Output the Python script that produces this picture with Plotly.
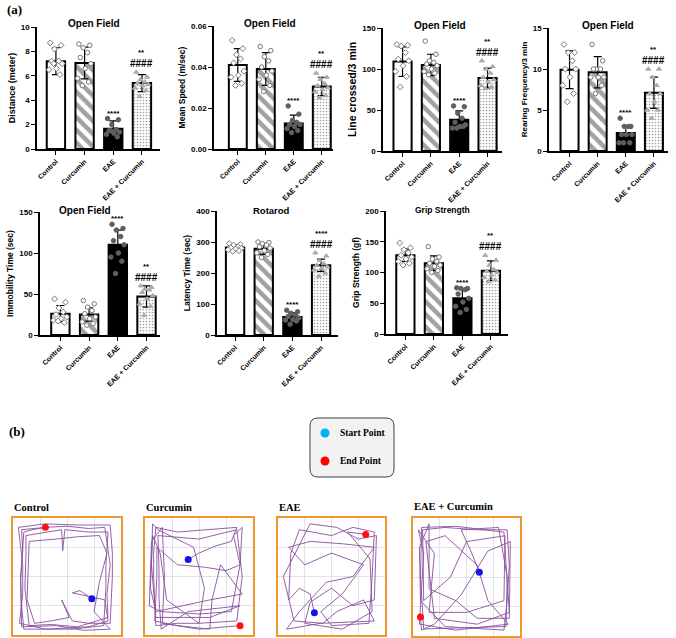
import plotly.graph_objects as go

W, H = 676, 638

categories = ["Control", "Curcumin", "EAE", "EAE + Curcumin"]

# ---------- bar data ----------
distance_mean = [7.2, 7.05, 1.65, 5.4]
distance_sd = [1.1, 1.3, 0.65, 0.7]
distance_pts = [
    [8.7, 8.5, 8.2, 7.2, 7.2, 7.0, 6.6, 6.5, 6.1, 7.0],
    [8.6, 8.5, 8.3, 7.9, 7.5, 7.0, 6.6, 5.8, 5.5, 5.2],
    [2.5, 2.4, 2.0, 1.6, 1.5, 1.4, 1.3, 1.2, 1.0, 1.5],
    [6.3, 5.9, 5.7, 5.5, 5.4, 5.3, 5.2, 5.0, 4.8, 4.3],
]
speed_mean = [0.041, 0.039, 0.0125, 0.0305]
speed_sd = [0.008, 0.008, 0.004, 0.0045]
speed_pts = [
    [0.053, 0.049, 0.046, 0.044, 0.042, 0.038, 0.036, 0.035, 0.032, 0.031],
    [0.050, 0.048, 0.045, 0.043, 0.040, 0.038, 0.036, 0.034, 0.031, 0.028],
    [0.021, 0.017, 0.014, 0.013, 0.012, 0.012, 0.011, 0.010, 0.009, 0.008],
    [0.037, 0.035, 0.034, 0.032, 0.031, 0.030, 0.029, 0.028, 0.026, 0.025],
]
lines_mean = [109, 105, 38, 89]
lines_sd = [18, 13, 11, 12]
lines_pts = [
    [130, 129, 128, 120, 112, 110, 104, 97, 91, 78],
    [134, 118, 110, 108, 106, 104, 100, 97, 95, 93],
    [55, 54, 46, 40, 35, 32, 30, 28, 30, 28],
    [110, 103, 100, 95, 90, 87, 84, 80, 78, 76],
]
rearing_mean = [9.9, 9.6, 2.2, 7.1]
rearing_sd = [2.3, 1.9, 0.9, 1.9]
rearing_pts = [
    [13, 12, 12, 11, 10, 10, 9, 8, 7, 6],
    [13, 11, 10, 10, 10, 9, 9, 9, 8, 7],
    [4, 3, 3, 3, 2, 2, 2, 1, 1, 1],
    [10, 10, 9, 8, 7, 7, 6, 5, 5, 4],
]
immob_mean = [26, 25, 110, 47]
immob_sd = [10, 8, 18, 13]
immob_pts = [
    [44, 40, 33, 28, 25, 22, 20, 18, 15, 17],
    [42, 38, 34, 30, 26, 22, 20, 16, 14, 12],
    [135, 130, 128, 120, 115, 110, 100, 95, 90, 75],
    [60, 58, 56, 55, 52, 48, 44, 38, 35, 24],
]
latency_mean = [282, 278, 58, 225]
latency_sd = [10, 18, 14, 20]
latency_pts = [
    [295, 292, 290, 285, 282, 280, 278, 275, 272, 270],
    [300, 298, 295, 290, 285, 280, 272, 265, 260, 250],
    [80, 75, 70, 65, 60, 55, 50, 48, 45, 35],
    [265, 255, 240, 230, 225, 220, 215, 210, 200, 190],
]
grip_mean = [128, 115, 58, 103]
grip_sd = [10, 12, 16, 16]
grip_pts = [
    [148, 140, 137, 132, 128, 125, 122, 118, 115, 112],
    [142, 125, 122, 118, 115, 112, 110, 106, 103, 100],
    [75, 74, 74, 72, 65, 58, 52, 45, 40, 35],
    [128, 120, 112, 105, 102, 100, 96, 92, 88, 85],
]

sig_open_field = ["", "", "****", "**"]
sig_rotarod = ["", "", "****", "****"]
sig_vs_eae = ["", "", "", "####"]

# ---------- track data (hand-traced waypoints, arena units 0..1, first = start, last = end) ----------
ctrl_track = [
    (0.73, 0.31), (0.62, 0.38), (0.55, 0.36), (0.7, 0.33), (0.85, 0.30), (0.88, 0.12), (0.7, 0.07),
    (0.5, 0.06), (0.3, 0.05), (0.1, 0.05), (0.08, 0.25), (0.07, 0.5), (0.09, 0.72), (0.08, 0.9),
    (0.3, 0.92), (0.5, 0.93), (0.7, 0.91), (0.85, 0.92), (0.88, 0.75), (0.9, 0.6), (0.87, 0.35),
    (0.88, 0.15), (0.6, 0.07), (0.35, 0.09), (0.15, 0.08), (0.11, 0.4), (0.12, 0.7), (0.12, 0.85),
    (0.45, 0.9), (0.46, 0.72), (0.48, 0.9), (0.7, 0.88), (0.88, 0.88), (0.86, 0.6), (0.86, 0.4),
    (0.84, 0.08), (0.55, 0.05), (0.3, 0.05), (0.06, 0.1), (0.09, 0.35), (0.09, 0.6), (0.05, 0.92),
    (0.3, 0.95), (0.6, 0.94), (0.9, 0.94), (0.92, 0.7), (0.92, 0.5), (0.9, 0.1), (0.7, 0.1),
    (0.55, 0.12), (0.45, 0.3), (0.52, 0.15), (0.35, 0.12), (0.2, 0.1), (0.13, 0.3), (0.14, 0.55),
    (0.15, 0.8), (0.4, 0.82), (0.6, 0.84), (0.8, 0.85), (0.87, 0.7), (0.8, 0.45), (0.75, 0.2),
    (0.9, 0.05), (0.65, 0.04), (0.4, 0.08), (0.08, 0.07), (0.07, 0.45), (0.1, 0.88), (0.18, 0.9),
    (0.30, 0.92),
]
curc_track = [
    (0.40, 0.645), (0.5, 0.7), (0.65, 0.76), (0.8, 0.8), (0.85, 0.92), (0.6, 0.9), (0.3, 0.88),
    (0.1, 0.92), (0.08, 0.7), (0.08, 0.5), (0.1, 0.08), (0.3, 0.1), (0.5, 0.1), (0.85, 0.12),
    (0.9, 0.5), (0.85, 0.9), (0.5, 0.82), (0.12, 0.85), (0.13, 0.55), (0.13, 0.3), (0.15, 0.05),
    (0.4, 0.2), (0.88, 0.25), (0.6, 0.15), (0.1, 0.15), (0.06, 0.6), (0.07, 0.95), (0.12, 0.9),
    (0.45, 0.75), (0.55, 0.4), (0.5, 0.1), (0.2, 0.3), (0.14, 0.7), (0.07, 0.85), (0.05, 0.4),
    (0.1, 0.2), (0.35, 0.25), (0.6, 0.3), (0.9, 0.35), (0.7, 0.6), (0.62, 0.3), (0.6, 0.05),
    (0.3, 0.08), (0.09, 0.12), (0.11, 0.5), (0.11, 0.75), (0.3, 0.6), (0.55, 0.58), (0.75, 0.55),
    (0.88, 0.6), (0.82, 0.85), (0.9, 0.92), (0.88, 0.6), (0.8, 0.2), (0.5, 0.18), (0.15, 0.2),
    (0.04, 0.25), (0.06, 0.8), (0.16, 0.92), (0.18, 0.5), (0.16, 0.1), (0.5, 0.05), (0.88, 0.08),
]
eae_track = [
    (0.34, 0.19), (0.3, 0.35), (0.2, 0.4), (0.1, 0.3), (0.12, 0.7), (0.2, 0.9), (0.5, 0.85),
    (0.7, 0.92), (0.9, 0.88), (0.88, 0.5), (0.85, 0.1), (0.5, 0.08), (0.4, 0.2), (0.6, 0.35),
    (0.8, 0.6), (0.5, 0.7), (0.25, 0.6), (0.1, 0.75), (0.3, 0.8), (0.6, 0.78), (0.9, 0.75),
    (0.7, 0.5), (0.45, 0.45), (0.2, 0.2), (0.08, 0.05), (0.4, 0.1), (0.9, 0.12), (0.8, 0.3),
    (0.55, 0.2), (0.42, 0.1), (0.15, 0.12), (0.05, 0.5), (0.3, 0.95), (0.55, 0.92), (0.75, 0.82),
    (0.92, 0.85), (0.9, 0.3), (0.7, 0.25), (0.5, 0.4), (0.3, 0.28), (0.25, 0.1), (0.6, 0.05),
    (0.88, 0.2), (0.86, 0.65), (0.65, 0.88), (0.82, 0.86),
]
eaec_track = [
    (0.62, 0.54), (0.55, 0.7), (0.45, 0.9), (0.8, 0.92), (0.88, 0.5), (0.87, 0.08), (0.5, 0.07),
    (0.1, 0.06), (0.07, 0.5), (0.08, 0.92), (0.4, 0.93), (0.85, 0.88), (0.9, 0.2), (0.6, 0.1),
    (0.2, 0.15), (0.12, 0.8), (0.3, 0.85), (0.6, 0.6), (0.7, 0.3), (0.89, 0.1), (0.4, 0.05),
    (0.06, 0.1), (0.1, 0.7), (0.05, 0.9), (0.2, 0.7), (0.15, 0.2), (0.5, 0.2), (0.85, 0.3),
    (0.86, 0.85), (0.5, 0.8), (0.35, 0.5), (0.1, 0.3), (0.09, 0.9), (0.3, 0.92), (0.6, 0.9),
    (0.88, 0.9), (0.9, 0.6), (0.88, 0.3), (0.85, 0.05), (0.3, 0.08), (0.07, 0.3), (0.06, 0.75),
    (0.15, 0.95), (0.15, 0.4), (0.4, 0.3), (0.6, 0.15), (0.9, 0.15), (0.91, 0.8), (0.7, 0.72),
    (0.45, 0.35), (0.2, 0.1), (0.08, 0.05), (0.07, 0.16),
]

track_names = ["Control", "Curcumin", "EAE", "EAE + Curcumin"]

# ---------- layout helpers ----------
def px(x):
    return x / W

def py(y):
    return 1 - y / H

panels = [
    dict(mean=distance_mean, sd=distance_sd, pts=distance_pts, sig=sig_open_field, title="Open Field",
         ytitle="Distance (meter)", yr=[0, 10], dt=2, fmt="", box=(37, 160, 27, 149), xr=[-0.66, 3.63],
         tpos=(94, 24), tsize=10, ysize=9),
    dict(mean=speed_mean, sd=speed_sd, pts=speed_pts, sig=sig_open_field, title="Open Field",
         ytitle="Mean Speed (m/sec)", yr=[0, 0.06], dt=0.02, fmt=".2f", box=(214, 333, 26, 149), xr=[-0.85, 3.4],
         tpos=(270, 24), tsize=10, ysize=8.5),
    dict(mean=lines_mean, sd=lines_sd, pts=lines_pts, sig=sig_open_field, title="Open Field",
         ytitle="Line crossed/3 min", yr=[0, 150], dt=50, fmt="", box=(383, 502, 28, 151), xr=[-0.69, 3.51],
         tpos=(440, 25), tsize=10, ysize=10.5),
    dict(mean=rearing_mean, sd=rearing_sd, pts=rearing_pts, sig=sig_open_field, title="Open Field",
         ytitle="Rearing Frequency/3 min", yr=[0, 15], dt=5, fmt="", box=(549, 668, 28, 151), xr=[-0.73, 3.5],
         tpos=(608, 25), tsize=10, ysize=8),
    dict(mean=immob_mean, sd=immob_sd, pts=immob_pts, sig=sig_open_field, title="Open Field",
         ytitle="Immobility Time (sec)", yr=[0, 150], dt=50, fmt="", box=(40, 160, 212, 335), xr=[-0.71, 3.47],
         tpos=(85, 210), tsize=10, ysize=8.5),
    dict(mean=latency_mean, sd=latency_sd, pts=latency_pts, sig=sig_rotarod, title="Rotarod",
         ytitle="Latency Time (sec)", yr=[0, 400], dt=100, fmt="", box=(217, 338, 211, 335), xr=[-0.63, 3.59],
         tpos=(271, 210), tsize=9.5, ysize=8.5),
    dict(mean=grip_mean, sd=grip_sd, pts=grip_pts, sig=sig_open_field, title="Grip Strength",
         ytitle="Grip Strength (gf)", yr=[0, 200], dt=50, fmt="", box=(386, 508, 211, 334), xr=[-0.68, 3.6],
         tpos=(442, 210), tsize=8.5, ysize=8.5),
]

SANS = "Liberation Sans"
SERIF = "Liberation Serif"

offsets = [-0.2, 0.18, -0.05, 0.1, -0.15, 0.22, 0.02, -0.24, 0.14, -0.08]
pt_symbols = ["diamond", "circle", "circle", "triangle-up"]
pt_fill = ["white", "white", "#5f5f5f", "#ababab"]
pt_line = ["#777777", "#777777", "#5f5f5f", "#ababab"]

fig = go.Figure()
layout = dict(
    width=W, height=H, margin=dict(l=0, r=0, t=0, b=0),
    paper_bgcolor="white", plot_bgcolor="rgba(0,0,0,0)", showlegend=False,
    annotations=[], shapes=[],
)

xpos = [0, 1, 2, 3]
for i, p in enumerate(panels):
    k = i + 1
    xa, ya = ("x%d" % k if k > 1 else "x"), ("y%d" % k if k > 1 else "y")
    x0, x1, y0, y1 = p["box"]
    fig.add_trace(go.Bar(
        x=xpos, y=p["mean"], width=0.64, xaxis=xa, yaxis=ya,
        marker=dict(
            color=["white", "white", "black", "white"],
            line=dict(color="black", width=2),
            pattern=dict(shape=["", "\\", "", "."],
                         fgcolor=["white", "black", "black", "#8a8a8a"],
                         bgcolor=["white", "white", "black", "white"],
                         size=[6, 9, 6, 3], solidity=[0.2, 0.5, 0.2, 0.25]),
        ),
    ))
    fig.add_trace(go.Scatter(
        x=xpos, y=p["mean"], mode="markers", marker=dict(opacity=0, size=1),
        error_y=dict(type="data", array=p["sd"], color="black", thickness=1.2, width=4),
        xaxis=xa, yaxis=ya,
    ))
    for g in range(4):
        vals = p["pts"][g]
        fig.add_trace(go.Scatter(
            x=[g + offsets[j % len(offsets)] for j in range(len(vals))], y=vals, mode="markers",
            marker=dict(symbol=pt_symbols[g], size=4.5, color=pt_fill[g],
                        line=dict(color=pt_line[g], width=1)),
            xaxis=xa, yaxis=ya, cliponaxis=False,
        ))
    for g in range(4):
        top = max(p["mean"][g] + p["sd"][g], max(p["pts"][g]))
        if sig_vs_eae[g]:
            layout["annotations"].append(dict(
                x=g, y=top, xref=xa, yref=ya, text="<b>%s</b>" % sig_vs_eae[g], showarrow=False,
                yanchor="bottom", yshift=1, font=dict(family=SANS, size=10, color="black")))
            layout["annotations"].append(dict(
                x=g, y=top, xref=xa, yref=ya, text="<b>%s</b>" % p["sig"][g], showarrow=False,
                yanchor="bottom", yshift=13, font=dict(family=SANS, size=8, color="black")))
        elif p["sig"][g]:
            layout["annotations"].append(dict(
                x=g, y=top, xref=xa, yref=ya, text="<b>%s</b>" % p["sig"][g], showarrow=False,
                yanchor="bottom", yshift=-1, font=dict(family=SANS, size=8, color="black")))
    layout["annotations"].append(dict(
        x=px(p["tpos"][0]), y=py(p["tpos"][1]), xref="paper", yref="paper",
        text="<b>%s</b>" % p["title"], showarrow=False, xanchor="center", yanchor="middle",
        font=dict(family=SANS, size=p["tsize"], color="black")))
    ticks = []
    v = p["yr"][0]
    while v <= p["yr"][1] + 1e-9:
        ticks.append(round(v, 6))
        v += p["dt"]
    layout["xaxis%s" % (k if k > 1 else "")] = dict(
        domain=[px(x0), px(x1)], range=p["xr"], anchor=ya,
        tickvals=xpos, ticktext=categories, tickangle=-45,
        tickfont=dict(family=SANS, size=7, color="black", weight="bold"),
        showline=True, linecolor="black", linewidth=1.5, ticks="outside", ticklen=4,
        tickcolor="black", tickwidth=1.2, showgrid=False, zeroline=False, fixedrange=True,
        automargin=False,
    )
    layout["yaxis%s" % (k if k > 1 else "")] = dict(
        domain=[py(y1), py(y0)], range=p["yr"], anchor=xa,
        tickvals=ticks, tickformat=p["fmt"],
        tickfont=dict(family=SANS, size=8, color="black", weight="bold"),
        title=dict(text=p["ytitle"], font=dict(family=SANS, size=p["ysize"], color="black", weight="bold"),
                   standoff=4),
        showline=True, linecolor="black", linewidth=1.5, ticks="outside", ticklen=4,
        tickcolor="black", tickwidth=1.2, showgrid=False, zeroline=False, fixedrange=True,
        automargin=False,
    )

# ---------- track panels ----------
track_boxes = [(13, 121, 518, 635), (145, 253, 518, 635), (278, 385, 518, 635), (413, 520, 518, 636)]
track_label_pos = [(12, 507), (144, 507), (277, 507), (412, 506)]
tracks = [ctrl_track, curc_track, eae_track, eaec_track]
for t in range(4):
    k = 8 + t
    xa, ya = "x%d" % k, "y%d" % k
    bx0, bx1, by0, by1 = track_boxes[t]
    tx = [a for a, b in tracks[t]]
    ty = [b for a, b in tracks[t]]
    fig.add_trace(go.Scatter(x=tx, y=ty, mode="lines", line=dict(color="#8a4f9c", width=0.9),
                             xaxis=xa, yaxis=ya))
    fig.add_trace(go.Scatter(x=[tx[0]], y=[ty[0]], mode="markers",
                             marker=dict(color="#1414e6", size=7), xaxis=xa, yaxis=ya, cliponaxis=False))
    fig.add_trace(go.Scatter(x=[tx[-1]], y=[ty[-1]], mode="markers",
                             marker=dict(color="#ff1010", size=7), xaxis=xa, yaxis=ya, cliponaxis=False))
    common = dict(range=[0, 1], showline=True, mirror=True, linecolor="#f0962e", linewidth=2,
                  showgrid=True, gridcolor="#dfe2e8", gridwidth=1, tickvals=[0.25, 0.5, 0.75],
                  showticklabels=False, ticks="", zeroline=False, fixedrange=True, automargin=False)
    layout["xaxis%d" % k] = dict(domain=[px(bx0), px(bx1)], anchor=ya, **common)
    layout["yaxis%d" % k] = dict(domain=[py(by1), py(by0)], anchor=xa, **common)
    lx, ly = track_label_pos[t]
    layout["annotations"].append(dict(
        x=px(lx), y=py(ly), xref="paper", yref="paper", text="<b>%s</b>" % track_names[t],
        showarrow=False, xanchor="left", yanchor="middle",
        font=dict(family=SERIF, size=10.5, color="black")))

# ---------- panel letters ----------
layout["annotations"].append(dict(x=px(5), y=py(9), xref="paper", yref="paper", text="<b>(a)</b>",
                                  showarrow=False, xanchor="left", yanchor="middle",
                                  font=dict(family=SERIF, size=13, color="black")))
layout["annotations"].append(dict(x=px(7), y=py(431), xref="paper", yref="paper", text="<b>(b)</b>",
                                  showarrow=False, xanchor="left", yanchor="middle",
                                  font=dict(family=SERIF, size=13, color="black")))

# ---------- start / end legend ----------
lx0, lx1, ly0, ly1, r = 310, 394, 418, 477, 8
def P(x, y):
    return "%.5f,%.5f" % (px(x), py(y))
path = ("M %s L %s Q %s %s L %s Q %s %s L %s Q %s %s L %s Q %s %s Z" % (
    P(lx0 + r, ly0), P(lx1 - r, ly0), P(lx1, ly0), P(lx1, ly0 + r), P(lx1, ly1 - r),
    P(lx1, ly1), P(lx1 - r, ly1), P(lx0 + r, ly1), P(lx0, ly1), P(lx0, ly1 - r),
    P(lx0, ly0 + r), P(lx0, ly0), P(lx0 + r, ly0)))
layout["shapes"].append(dict(type="path", path=path, xref="paper", yref="paper",
                             fillcolor="#f2f2f2", line=dict(color="#404040", width=1)))
legend_items = [("Start Point", "#00b0f0", 433), ("End Point", "#ff0000", 461)]
for name, col, yy in legend_items:
    layout["shapes"].append(dict(type="circle", xref="paper", yref="paper",
                                 x0=px(325 - 4.5), x1=px(325 + 4.5), y0=py(yy + 4.5), y1=py(yy - 4.5),
                                 fillcolor=col, line=dict(color=col, width=0)))
    layout["annotations"].append(dict(x=px(338), y=py(yy), xref="paper", yref="paper",
                                      text="<b>%s</b>" % name, showarrow=False, xanchor="left",
                                      yanchor="middle", font=dict(family=SERIF, size=9.5, color="black")))

fig.update_layout(**layout)
fig.write_html("out.html", config={"displayModeBar": False},
               post_script="document.body.style.margin='0';document.body.style.padding='0';")
